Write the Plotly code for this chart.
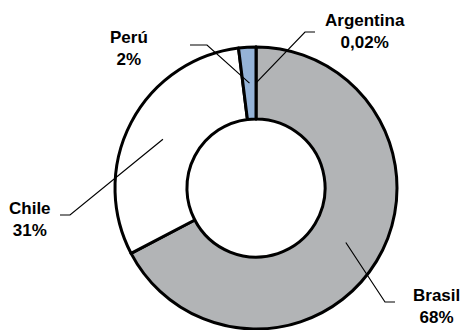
import math
import plotly.graph_objects as go

# Share of each country (percent)
countries = ["Argentina", "Brasil", "Chile", "Perú"]
shares = [0.02, 68, 31, 2]
slice_colors = ["#1F3864", "#B2B4B6", "#FFFFFF", "#95B3D7"]

W, H = 462, 330
CX, CY, R = 256, 188, 141   # doughnut centre and outer radius, px
HOLE = 0.49

# Label block centres and leader-line elbows, px
label_pos = {
    "Argentina": (365, 32),
    "Brasil": (436, 306),
    "Chile": (30, 219),
    "Perú": (129, 49),
}
elbows = {
    "Argentina": [(305, 32), (315, 32)],
    "Brasil": [(385, 302), (395, 302)],
    "Chile": [(70, 215), (60, 215)],
    "Perú": [(207, 45), (190, 45)],
}


def px_x(x):
    return x / W


def px_y(y):
    return 1 - y / H


def pct_text(v):
    return f"{v:g}".replace(".", ",") + "%"


fig = go.Figure(
    go.Pie(
        labels=countries,
        values=shares,
        sort=False,
        direction="clockwise",
        rotation=0,
        hole=HOLE,
        textinfo="none",
        hoverinfo="label+percent",
        marker=dict(colors=slice_colors, line=dict(color="#000000", width=3)),
        domain=dict(
            x=[px_x(CX - R), px_x(CX + R)],
            y=[px_y(CY + R), px_y(CY - R)],
        ),
    )
)

# Leader lines start in the middle of the ring at each slice's mid-angle
total = sum(shares)
r_mid = R * (1 + HOLE) / 2
shapes = []
annotations = []
cum = 0.0
for name, v in zip(countries, shares):
    mid = math.radians((cum + v / 2) / total * 360)
    cum += v
    sx = CX + r_mid * math.sin(mid)
    sy = CY - r_mid * math.cos(mid)
    pts = [(sx, sy)] + elbows[name]
    path = "M " + " L ".join(f"{px_x(x)},{px_y(y)}" for x, y in pts)
    shapes.append(
        dict(type="path", path=path, xref="paper", yref="paper",
             line=dict(color="#000000", width=1.2))
    )
    lx, ly = label_pos[name]
    annotations.append(
        dict(
            x=px_x(lx), y=px_y(ly), xref="paper", yref="paper",
            text=f"{name}<br>{pct_text(v)}",
            showarrow=False, xanchor="center", yanchor="middle",
            align="center",
            font=dict(family="Liberation Sans, Arial", size=17,
                      color="#000000", weight="bold"),
        )
    )

fig.update_layout(
    width=W,
    height=H,
    margin=dict(l=0, r=0, t=0, b=0),
    paper_bgcolor="#FFFFFF",
    plot_bgcolor="#FFFFFF",
    showlegend=False,
    shapes=shapes,
    annotations=annotations,
)

fig.write_html("out.html")
